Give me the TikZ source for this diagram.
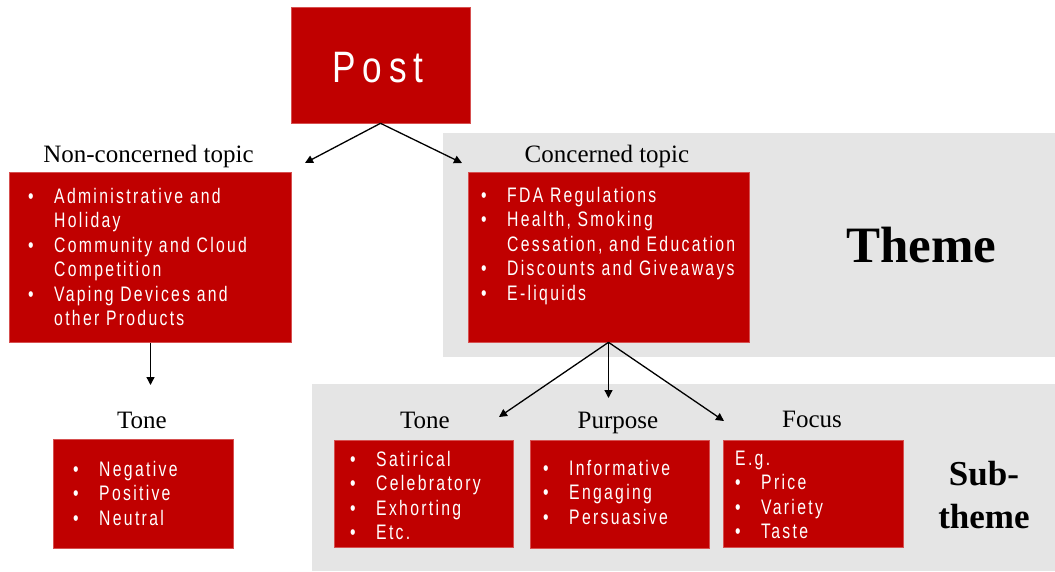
\documentclass[tikz,border=0pt]{standalone}
\usepackage{fontspec}
\setmainfont{Liberation Serif}
\newfontfamily\boxfont[FakeStretch=0.75,LetterSpace=11]{Liberation Sans}
\newfontfamily\postfont[FakeStretch=0.8,LetterSpace=15]{Liberation Sans}
\usetikzlibrary{arrows.meta}
\definecolor{boxred}{HTML}{C00000}
\definecolor{boxedge}{HTML}{D65050}
\definecolor{panelgrey}{HTML}{E5E5E5}
\newcommand{\bitem}[1]{\makebox[26pt][l]{•}#1}
\newcommand{\bcont}[1]{\hspace*{26pt}#1}
\newcommand{\listbox}[1]{\parbox[t]{300pt}{\fontsize{21}{24.5}\boxfont\raggedright #1}}
\begin{document}
\begin{tikzpicture}[x=1pt,y=-1pt,
  redbox/.style={fill=boxred, draw=boxedge, line width=0.6pt, inner sep=0},
  panel/.style={fill=panelgrey, draw=none, inner sep=0},
  lbl/.style={font=\fontsize{25}{30}\selectfont, inner sep=0, anchor=base},
  listtext/.style={inner sep=0, anchor=base west, text=white},
  arr/.style={-{Triangle[length=8pt,width=8pt]}, line width=1.3pt, draw=black}]
\useasboundingbox (0,0) rectangle (1055,571);
% panels
\node[panel, minimum width=612pt, minimum height=224pt] (themepanel) at (749,245) {};
\node[panel, minimum width=743pt, minimum height=187pt] (subpanel) at (683.5,477.5) {};
% boxes
\node[redbox, minimum width=179pt, minimum height=116pt] (post) at (380.5,65) {};
\node[redbox, minimum width=282pt, minimum height=170pt] (nc) at (150.5,257.5) {};
\node[redbox, minimum width=281pt, minimum height=170pt] (ct) at (608.5,257) {};
\node[redbox, minimum width=180pt, minimum height=109pt] (tonel) at (143,493.5) {};
\node[redbox, minimum width=179pt, minimum height=107pt] (tones) at (423.5,493.5) {};
\node[redbox, minimum width=179pt, minimum height=108pt] (purp) at (619.5,494) {};
\node[redbox, minimum width=180pt, minimum height=107pt] (focus) at (813,493.5) {};
% post text
\node[inner sep=0, anchor=base, text=white, font=\fontsize{44}{50}\postfont] (posttext) at (378,82) {Post};
% labels
\node[lbl] (nclabel) at (148.5,162) {Non-concerned topic};
\node[lbl] (ctlabel) at (607,162) {Concerned topic};
\node[lbl] (tonellabel) at (142,428) {Tone};
\node[lbl] (toneslabel) at (425,428) {Tone};
\node[lbl] (purplabel) at (618,428) {Purpose};
\node[lbl] (focuslabel) at (812,427) {Focus};
\node[inner sep=0, anchor=base west, font=\fontsize{51}{56}\selectfont\bfseries] (theme) at (846,262) {Theme};
\node[inner sep=0, anchor=base, font=\fontsize{35}{43}\selectfont\bfseries] (subtheme) at (984,485)
  {\parbox[t]{120pt}{\centering Sub-\\theme}};
% list texts
\node[listtext] (nctext) at (28,203) {\listbox{\bitem{Administrative and}\\\bcont{Holiday}\\\bitem{Community and Cloud}\\\bcont{Competition}\\\bitem{Vaping Devices and}\\\bcont{other Products}}};
\node[listtext] (cttext) at (481,202) {\listbox{\bitem{FDA Regulations}\\\bitem{Health, Smoking}\\\bcont{Cessation, and Education}\\\bitem{Discounts and Giveaways}\\\bitem{E-liquids}}};
\node[listtext] (toneltext) at (73,476) {\listbox{\bitem{Negative}\\\bitem{Positive}\\\bitem{Neutral}}};
\node[listtext] (tonestext) at (350,466) {\listbox{\bitem{Satirical}\\\bitem{Celebratory}\\\bitem{Exhorting}\\\bitem{Etc.}}};
\node[listtext] (purptext) at (543,475) {\listbox{\bitem{Informative}\\\bitem{Engaging}\\\bitem{Persuasive}}};
\node[listtext] (focustext) at (735,465) {\listbox{E.g.\\\bitem{Price}\\\bitem{Variety}\\\bitem{Taste}}};
% arrow tips
\coordinate (tipnc) at (305,163);
\coordinate (tipct) at (462,163);
\coordinate (tiptonel) at (150.5,385);
\coordinate (tiptones) at (499,417);
\coordinate (tippurp) at (608.5,398);
\coordinate (tipfocus) at (724,421);
\draw[arr] (post.south) -- (tipnc);
\draw[arr] (post.south) -- (tipct);
\draw[arr] (nc.south) -- (tiptonel);
\draw[arr] (ct.south) -- (tiptones);
\draw[arr] (ct.south) -- (tippurp);
\draw[arr] (ct.south) -- (tipfocus);
\end{tikzpicture}
\end{document}
